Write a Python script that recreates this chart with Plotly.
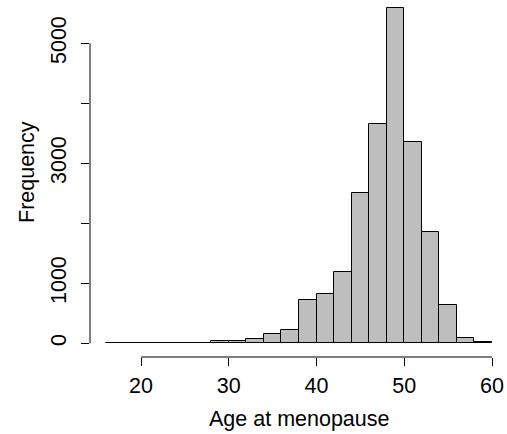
import plotly.graph_objects as go

# Histogram of age at menopause: bin edges (width 2 years) and counts per bin
bin_left = [16, 18, 20, 22, 24, 26, 28, 30, 32, 34, 36, 38, 40,
            42, 44, 46, 48, 50, 52, 54, 56, 58]
counts = [8, 5, 5, 4, 5, 12, 36, 39, 67, 150, 217, 722, 828,
          1183, 2506, 3661, 5589, 3361, 1856, 639, 94, 17]
bin_width = 2

x_ticks = [20, 30, 40, 50, 60]
y_ticks = [0, 1000, 2000, 3000, 4000, 5000]
y_tick_labels = ["0", "1000", "", "3000", "", "5000"]

W, H = 507, 434
L, R, T, B = 90, 0, 0, 77
FONT = dict(family="Liberation Sans, Arial, Helvetica, sans-serif", size=21.5, color="black")

centers = [b + bin_width / 2 for b in bin_left]

fig = go.Figure()
fig.add_trace(go.Bar(
    x=centers,
    y=counts,
    width=[bin_width] * len(counts),
    marker=dict(color="#BEBEBE", line=dict(color="black", width=1)),
    hoverinfo="x+y",
))

plot_w = W - L - R
plot_h = H - B - T

fig.update_layout(
    width=W, height=H,
    margin=dict(l=L, r=R, t=T, b=B, pad=0),
    paper_bgcolor="white", plot_bgcolor="white",
    showlegend=False,
    bargap=0,
    font=FONT,
    xaxis=dict(
        range=[14.18, 61.71],
        tickvals=x_ticks,
        ticktext=[str(v) for v in x_ticks],
        ticks="outside", ticklen=8, tickwidth=1, tickcolor="black",
        showline=False, showgrid=False, zeroline=False,
        tickfont=FONT, ticklabelstandoff=1,
    ),
    yaxis=dict(
        range=[-228, 5722],
        tickvals=y_ticks,
        ticktext=y_tick_labels,
        tickangle=-90,
        ticks="outside", ticklen=8, tickwidth=1, tickcolor="black",
        showline=False, showgrid=False, zeroline=False,
        tickfont=FONT, ticklabelstandoff=6,
    ),
    shapes=[
        # axis lines spanning first to last tick
        dict(type="line", xref="x", yref="paper", x0=x_ticks[0], x1=x_ticks[-1], y0=0, y1=0,
             line=dict(color="black", width=1)),
        dict(type="line", xref="paper", yref="y", x0=0, x1=0, y0=y_ticks[0], y1=y_ticks[-1],
             line=dict(color="black", width=1)),
    ],
    annotations=[
        dict(text="Age at menopause", xref="paper", yref="paper",
             x=(299.5 - L) / plot_w, y=(H - B - 419) / plot_h,
             xanchor="center", yanchor="middle", showarrow=False, font=FONT),
        dict(text="Frequency", xref="paper", yref="paper", textangle=-90,
             x=(27 - L) / plot_w, y=(H - B - 172) / plot_h,
             xanchor="center", yanchor="middle", showarrow=False, font=FONT),
    ],
)

fig.write_html("out.html")
